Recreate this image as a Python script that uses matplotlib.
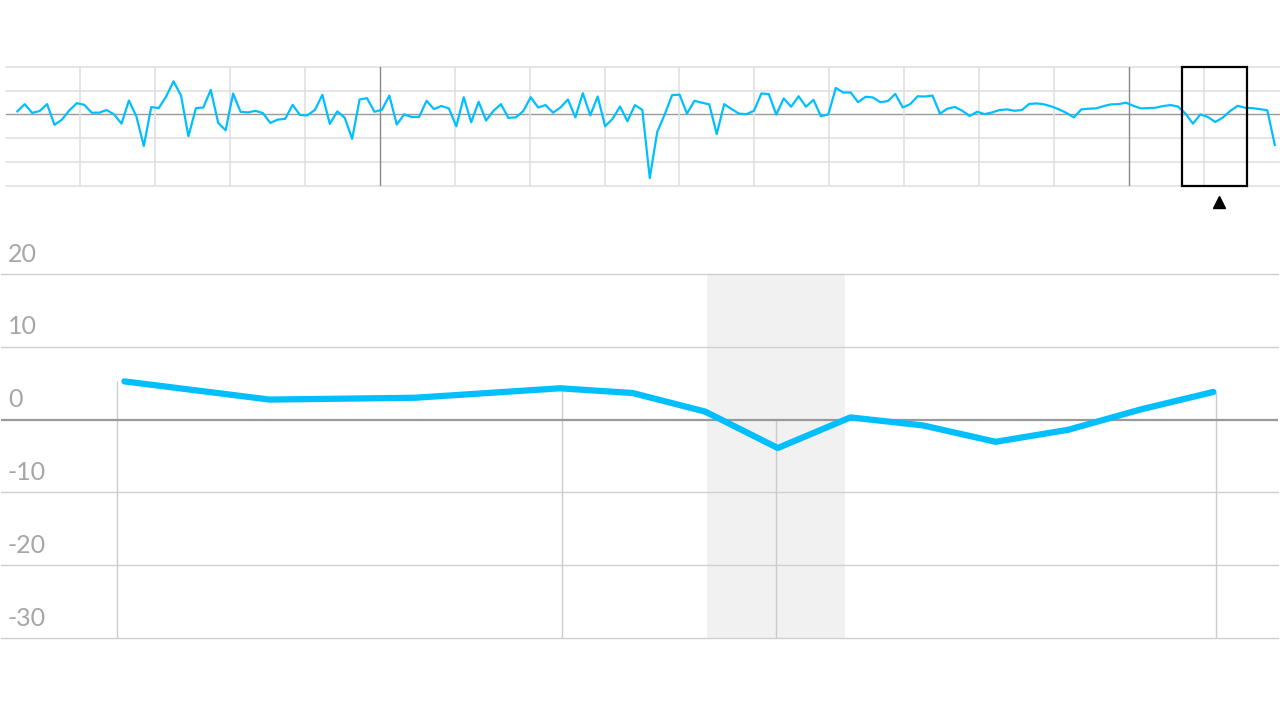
import numpy as np
import matplotlib
matplotlib.use("Agg")
import matplotlib.pyplot as plt
from matplotlib.patches import Rectangle

# overview series (one value per period)
overview_vals = [
    1.25, 4.3, 0.6, 1.4, 4.3, -4.4, -2.2, 1.7, 4.7, 4.0,
    0.7, 0.7, 1.8, 0.0, -3.9, 5.8, -0.8, -13.3, 3.1, 2.6,
    7.5, 13.9, 7.9, -9.2, 2.6, 2.9, 10.3, -3.6, -6.7, 8.75,
    1.1, 0.8, 1.5,
    0.55, -3.6, -2.2, -1.9, 4.0, -0.3, -0.4, 1.9, 8.2, -4.0,
    1.25, -1.4, -10.3, 6.25, 6.8, 1.1, 1.9, 7.9, -4.3, 0.0,
    -1.1, -1.1, 5.7, 2.2, 3.5, 2.5, -5.0, 7.2, -3.3, 5.3,
    -2.6, 1.5, 4.3, -1.5,
    -1.25, 1.4, 7.2, 2.9, 3.9, 0.7, 2.9, 6.25, -1.25, 8.9,
    -0.4, 7.5, -5.0, -1.9, 3.3, -2.9, 3.9, 1.9, -26.8, -7.4,
    -0.1, 8.1, 8.3, 0.3, 5.7, 4.9, 4.2, -8.3, 4.3, 2.2,
    0.3, 0.1, 1.5, 8.8,
    8.5, -0.1, 6.7, 3.2, 7.6, 3.2, 6.1, -0.8, 0.0, 11.1,
    9.2, 9.2, 5.1, 7.4, 7.1, 5.1, 5.6, 8.6, 2.9, 4.3,
    7.6, 7.5, 7.9, 0.3, 2.4, 3.1, 1.5, -0.7, 1.1, 0.1,
    0.8, 1.8, 2.1,
    1.5, 1.8, 4.4, 4.6, 4.2, 3.3, 2.1, 0.6, -1.25, 2.1,
    2.4, 2.5, 3.5, 4.2, 4.3, 4.9, 3.6, 2.5, 2.6, 2.8,
    3.5, 3.9, 3.3, 0.3, -3.9, 0.0, -1.1, -3.2, -1.4, 1.4,
    3.6, 2.8, 2.6, 2.2, 1.7, -12.9,
]
overview_x = np.arange(len(overview_vals))

# brushed window in the overview
brush_start = 156.5
brush_end = 165.3
brush_marker = 161.5

# detail chart
main_x = [0, 2, 4, 6, 7, 8, 9, 10, 11, 12, 13, 14, 15]
main_vals = [5.25, 2.75, 3.0, 4.3, 3.65, 1.1, -3.9, 0.3, -0.8, -3.05, -1.4, 1.4, 3.8]
main_markers = [-0.1, 6.03, 8.97, 15.03]
band = (8.02, 9.92)
y_ticks = [20, 10, 0, -10, -20, -30]

blue = "#00bfff"
grid_c = "#d0d0d0"
zero_c = "#999999"

fig = plt.figure(figsize=(12.8, 7.1), dpi=100)

# ---- overview strip ----
ov = fig.add_axes([6 / 1280, 1 - 185.7 / 710, 1274 / 1280, 118.9 / 710])
ov.set_xlim(-1.52, 169.7)
ov.set_ylim(-30, 20)
for y in y_ticks:
    ov.axhline(y, color=zero_c if y == 0 else "#e0e0e0", lw=1.0 if y == 0 else 1.2,
               zorder=1, clip_on=False)
step = 74.9 / 7.44
for k in range(1, 17):
    gx = -1.61 + step * k
    dark = k in (5, 15)
    ov.axvline(gx, color="#888888" if dark else "#e0e0e0", lw=1.0 if dark else 1.2, zorder=1)
ov.plot(overview_x, overview_vals, color=blue, lw=1.6, zorder=3)
ov.add_patch(Rectangle((brush_start, -30), brush_end - brush_start, 50, fill=False,
                       ec="black", lw=1.6, clip_on=False, zorder=4))
ov.plot([brush_marker], [-36.9], marker="^", color="black", ms=9, clip_on=False)
ov.axis("off")

# ---- detail chart ----
ax = fig.add_axes([1 / 1280, 1 - 638 / 710, 1277 / 1280, 364 / 710])
ax.set_xlim(-1.70, 15.89)
ax.set_ylim(-30, 20)
ax.axvspan(band[0], band[1], color="#f1f1f1", lw=0, zorder=0)
for y in y_ticks:
    if y == 0:
        ax.axhline(y, color=zero_c, lw=1.6, zorder=2)
    else:
        ax.axhline(y, color=grid_c, lw=1.0, zorder=1, clip_on=False)
    ax.annotate(str(y), xy=(0, y), xycoords=("axes fraction", "data"),
                xytext=(5, 9), textcoords="offset points", ha="left", va="baseline",
                fontsize=18, color="#a6a6a6", family=["Lato", "DejaVu Sans"],
                annotation_clip=False)
tops = np.maximum(0, np.interp(main_markers, main_x, main_vals))
ax.vlines(main_markers, -30, tops, color="#cccccc", lw=1.0, zorder=1)
ax.plot(main_x, main_vals, color=blue, lw=4.5, solid_capstyle="round",
        solid_joinstyle="round", zorder=3)
ax.axis("off")

fig.savefig("out.png", dpi=100)
